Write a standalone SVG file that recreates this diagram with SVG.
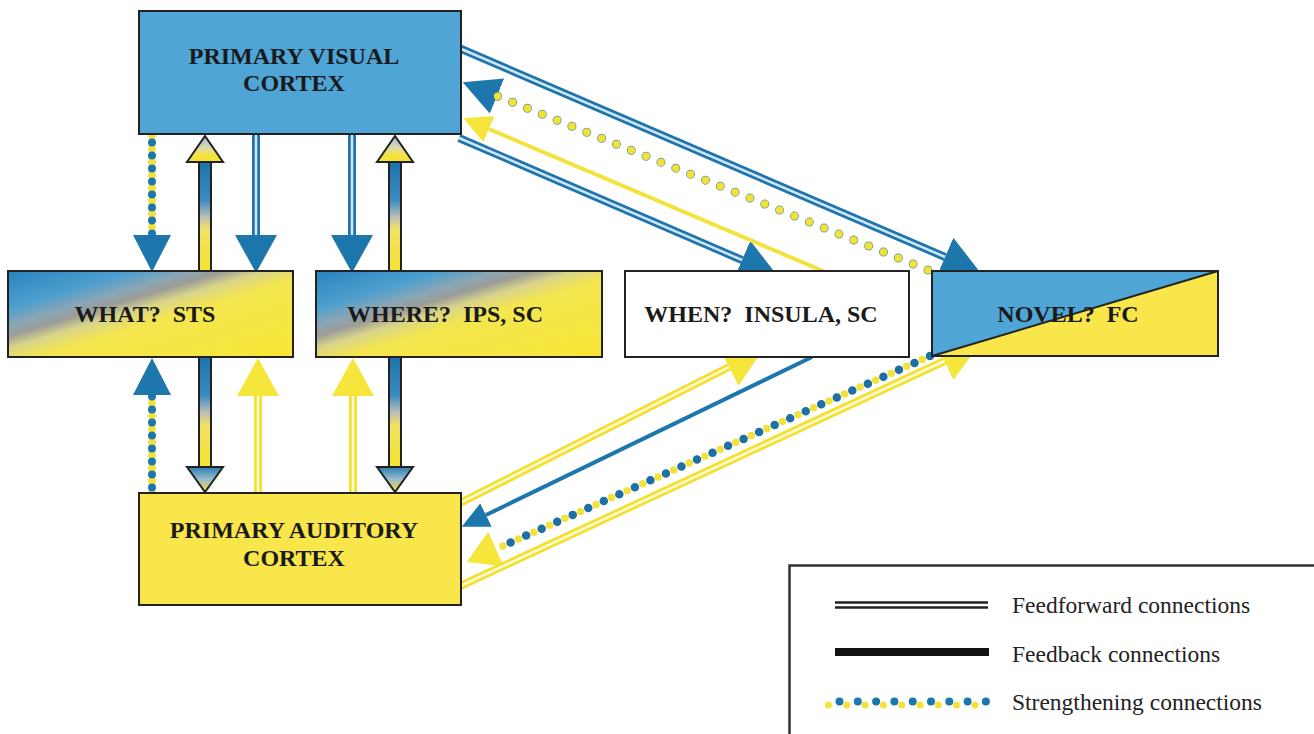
<svg xmlns="http://www.w3.org/2000/svg" width="1314" height="734" viewBox="0 0 1314 734">
<style>
.box{stroke:#222;stroke-width:2}
.lbl{font-family:"Liberation Serif","Times New Roman",serif;font-weight:bold;font-size:24px;fill:#1a1a1a;text-anchor:middle}
.leg{font-family:"Liberation Serif","Times New Roman",serif;font-size:23.5px;fill:#222}
.ffB{fill:none;stroke:#1f74ab;stroke-width:8}
.ffBi{fill:none;stroke:#cfe6f5;stroke-width:2.5}
.ffY{fill:none;stroke:#f4e030;stroke-width:8}
.ffYi{fill:none;stroke:#fffbd8;stroke-width:2.5}
.fb{stroke:#222;stroke-width:2}
.dvY{fill:none;stroke:#f4e23c;stroke-width:8;stroke-linecap:round;stroke-dasharray:0 13}
.dvB{fill:none;stroke:#1d77ad;stroke-width:8;stroke-linecap:round;stroke-dasharray:0 13;stroke-dashoffset:-6.5}
.dR{fill:none;stroke:#5b93a0;stroke-width:9;stroke-linecap:round;stroke-dasharray:0 16}
.dI{fill:none;stroke:#f2e236;stroke-width:7.5;stroke-linecap:round;stroke-dasharray:0 16}
.dB2{fill:none;stroke:#1d6fa5;stroke-width:8.5;stroke-linecap:round;stroke-dasharray:0 17}
.dY2{fill:none;stroke:#f4e23c;stroke-width:7.5;stroke-linecap:round;stroke-dasharray:0 17;stroke-dashoffset:-8.5}
</style>
<defs>
<marker id="mB" viewBox="0 0 38 42" refX="0" refY="21" markerWidth="38" markerHeight="42" markerUnits="userSpaceOnUse" orient="auto"><path d="M0,0L38,21L0,42Z" fill="#1d77ad"/></marker>
<marker id="mY" viewBox="0 0 38 42" refX="0" refY="21" markerWidth="38" markerHeight="42" markerUnits="userSpaceOnUse" orient="auto"><path d="M0,0L38,21L0,42Z" fill="#f6e53a"/></marker>
<marker id="mBd" viewBox="0 0 37 38" refX="0" refY="19" markerWidth="37" markerHeight="38" markerUnits="userSpaceOnUse" orient="auto"><path d="M0,0L37,19L0,38Z" fill="#1d77ad"/></marker>
<marker id="mYd" viewBox="0 0 32 38" refX="0" refY="19" markerWidth="32" markerHeight="38" markerUnits="userSpaceOnUse" orient="auto"><path d="M0,0L32,19L0,38Z" fill="#f6e53a"/></marker>
<marker id="mBs" viewBox="0 0 27 26" refX="0" refY="13" markerWidth="27" markerHeight="26" markerUnits="userSpaceOnUse" orient="auto"><path d="M0,0L27,13L0,26Z" fill="#1d77ad"/></marker>
<marker id="mYs" viewBox="0 0 28 28" refX="0" refY="14" markerWidth="28" markerHeight="28" markerUnits="userSpaceOnUse" orient="auto"><path d="M0,0L28,14L0,28Z" fill="#f6e53a"/></marker>
<linearGradient id="gShaft" x1="0" y1="0" x2="0" y2="1">
<stop offset="0" stop-color="#1c74ab"/>
<stop offset="0.35" stop-color="#3a8cc0"/>
<stop offset="0.5" stop-color="#b9bcb8"/>
<stop offset="0.62" stop-color="#f1e266"/>
<stop offset="1" stop-color="#f6e32e"/>
</linearGradient>
<linearGradient id="gHeadUp" x1="0" y1="0" x2="0" y2="1">
<stop offset="0" stop-color="#9fb6c2"/>
<stop offset="0.45" stop-color="#d9dab0"/>
<stop offset="0.7" stop-color="#f3e24a"/>
<stop offset="1" stop-color="#f6e32e"/>
</linearGradient>
<linearGradient id="gHeadDn" x1="0" y1="0" x2="0" y2="1">
<stop offset="0" stop-color="#2b7db2"/>
<stop offset="0.5" stop-color="#9cbccc"/>
<stop offset="1" stop-color="#f4e23c"/>
</linearGradient>
<linearGradient id="gMix" x1="0" y1="0" x2="1" y2="1">
<stop offset="0" stop-color="#2a83bd"/>
<stop offset="0.22" stop-color="#4d9fcf"/>
<stop offset="0.32" stop-color="#8aa6b4"/>
<stop offset="0.38" stop-color="#9c9c98"/>
<stop offset="0.45" stop-color="#d8d48a"/>
<stop offset="0.55" stop-color="#f4e650"/>
<stop offset="1" stop-color="#f8e735"/>
</linearGradient>
</defs>
<rect width="1314" height="734" fill="#ffffff"/>

<g id="connectors">
<!-- visual -> WHAT strengthening -->
<path class="dvY" d="M152,136L152,235" marker-end="url(#mBd)"/>
<path class="dvB" d="M152,136L152,235"/>
<!-- auditory -> WHAT strengthening -->
<path class="dvY" d="M152,494L152,395" marker-end="url(#mBd)"/>
<path class="dvB" d="M152,494L152,395"/>
<!-- visual -> WHAT / WHERE feedforward -->
<path class="ffB" d="M256,135L256,235" marker-end="url(#mB)"/>
<path class="ffBi" d="M256,135L256,235"/>
<path class="ffB" d="M352,135L352,235" marker-end="url(#mB)"/>
<path class="ffBi" d="M352,135L352,235"/>
<!-- auditory -> WHAT / WHERE feedforward -->
<path class="ffY" d="M258,493L258,396" marker-end="url(#mY)"/>
<path class="ffYi" d="M258,493L258,396"/>
<path class="ffY" d="M353,493L353,396" marker-end="url(#mY)"/>
<path class="ffYi" d="M353,493L353,396"/>
<!-- feedback up to visual -->
<rect class="fb" x="199" y="162" width="12" height="109" fill="url(#gShaft)"/>
<polygon class="fb" points="187,162 223,162 205,136" fill="url(#gHeadUp)"/>
<rect class="fb" x="389" y="162" width="12" height="109" fill="url(#gShaft)"/>
<polygon class="fb" points="377,162 413,162 395,136" fill="url(#gHeadUp)"/>
<!-- feedback down to auditory -->
<rect class="fb" x="199" y="357" width="12" height="110" fill="url(#gShaft)"/>
<polygon class="fb" points="187,467 223,467 205,492" fill="url(#gHeadDn)"/>
<rect class="fb" x="389" y="357" width="12" height="110" fill="url(#gShaft)"/>
<polygon class="fb" points="377,467 413,467 395,492" fill="url(#gHeadDn)"/>
<!-- visual -> NOVEL feedforward -->
<path class="ffB" d="M459,48L945,257" marker-end="url(#mB)"/>
<path class="ffBi" d="M459,48L945,257"/>
<!-- visual -> WHEN feedforward -->
<path class="ffB" d="M459,138L742,260" marker-end="url(#mB)"/>
<path class="ffBi" d="M459,138L742,260"/>
<!-- WHEN -> visual feedback -->
<path d="M823,271L489,129" fill="none" stroke="#f4e23c" stroke-width="4" marker-end="url(#mYs)"/>
<!-- NOVEL -> visual strengthening -->
<path class="dR" d="M928,270L497,96" marker-end="url(#mBd)"/>
<path class="dI" d="M928,270L497,96"/>
<!-- auditory -> WHEN feedforward -->
<path class="ffY" d="M458,504L729,367" marker-end="url(#mY)"/>
<path class="ffYi" d="M458,504L729,367"/>
<!-- WHEN -> auditory feedback -->
<path d="M812,357L486,515" fill="none" stroke="#1d77ad" stroke-width="4" marker-end="url(#mBs)"/>
<!-- NOVEL -> auditory strengthening -->
<path class="dB2" d="M930,356L496,549" marker-end="url(#mYd)"/>
<path class="dY2" d="M930,356L496,549"/>
<!-- auditory -> NOVEL feedforward -->
<path class="ffY" d="M458,587L944.5,361" marker-end="url(#mY)"/>
<path class="ffYi" d="M458,587L944.5,361"/>
</g>

<g id="visual">
<rect class="box" x="139" y="11" width="322" height="123" fill="#4ea5d6"/>
<text class="lbl" x="294" y="64">PRIMARY VISUAL</text>
<text class="lbl" x="294" y="91">CORTEX</text>
</g>
<g id="what">
<rect class="box" x="8" y="271" width="285" height="86" fill="url(#gMix)"/>
<text class="lbl" x="145" y="322" xml:space="preserve">WHAT?  STS</text>
</g>
<g id="where">
<rect class="box" x="316" y="271" width="286" height="86" fill="url(#gMix)"/>
<text class="lbl" x="445" y="322" xml:space="preserve">WHERE?  IPS, SC</text>
</g>
<g id="when">
<rect class="box" x="625" y="271" width="284" height="86" fill="#ffffff"/>
<text class="lbl" x="761" y="322" xml:space="preserve">WHEN?  INSULA, SC</text>
</g>
<g id="novel">
<polygon points="932,271 1218,271 932,356" fill="#4ea5d6"/>
<polygon points="1218,271 1218,356 932,356" fill="#f8e64a"/>
<rect class="box" x="932" y="271" width="286" height="85" fill="none"/>
<line x1="932" y1="356" x2="1218" y2="271" stroke="#222" stroke-width="2"/>
<text class="lbl" x="1068" y="322" xml:space="preserve">NOVEL?  FC</text>
</g>
<g id="auditory">
<rect class="box" x="139" y="493" width="322" height="112" fill="#f8e64a"/>
<text class="lbl" x="294" y="538">PRIMARY AUDITORY</text>
<text class="lbl" x="294" y="566">CORTEX</text>
</g>

<g id="legend">
<rect x="789.5" y="565.5" width="600" height="300" fill="#ffffff" stroke="#333" stroke-width="2.5"/>
<path d="M835,605H988" stroke="#222" stroke-width="7.5"/>
<path d="M835,605H988" stroke="#ffffff" stroke-width="2.5"/>
<path d="M835,652H989" stroke="#111" stroke-width="8"/>
<path d="M839.5,701.5H986" fill="none" stroke="#1d77ad" stroke-width="8" stroke-linecap="round" stroke-dasharray="0 18.3"/>
<path d="M828.5,705H976" fill="none" stroke="#f4e23c" stroke-width="7" stroke-linecap="round" stroke-dasharray="0 18.3"/>
<text class="leg" x="1012" y="613">Feedforward connections</text>
<text class="leg" x="1012" y="662">Feedback connections</text>
<text class="leg" x="1012" y="710">Strengthening connections</text>
</g>
</svg>
